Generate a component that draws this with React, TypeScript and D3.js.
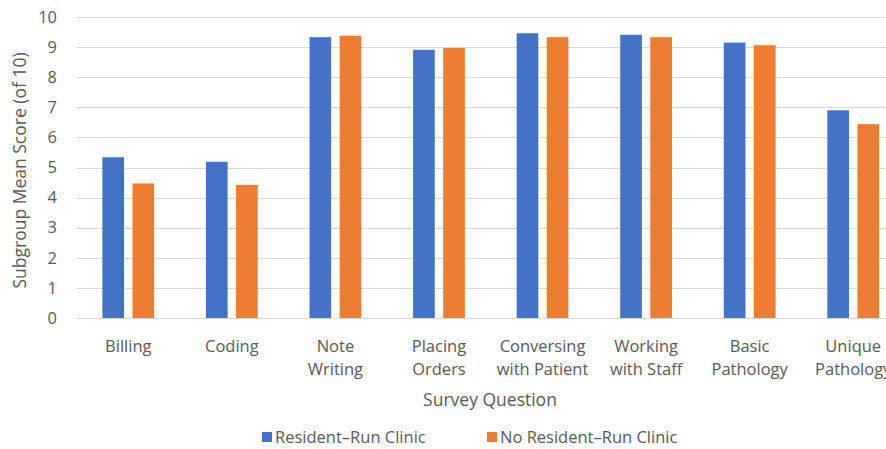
import React, { useEffect, useRef } from "react";
import * as d3 from "d3";

const categories = [
  ["Billing"],
  ["Coding"],
  ["Note", "Writing"],
  ["Placing", "Orders"],
  ["Conversing", "with Patient"],
  ["Working", "with Staff"],
  ["Basic", "Pathology"],
  ["Unique", "Pathology"],
];
const residentRun = [5.34, 5.19, 9.33, 8.91, 9.46, 9.41, 9.15, 6.9];
const noResidentRun = [4.47, 4.42, 9.38, 8.97, 9.33, 9.33, 9.06, 6.44];
const seriesNames = ["Resident\u2013Run Clinic", "No Resident\u2013Run Clinic"];
const yTicks = [0, 1, 2, 3, 4, 5, 6, 7, 8, 9, 10];

const colors = ["#4472C4", "#ED7D31"];
const textColor = "#595959";
const font = "'Open Sans', sans-serif";

const App = () => {
  const svgRef = useRef<SVGSVGElement | null>(null);

  useEffect(() => {
    const svg = d3.select(svgRef.current);
    svg.selectAll("*").remove();

    const width = 886;
    const height = 449;
    const top = 17;
    const bottom = 318;
    const left = 76.5;
    const right = 905;

    const keys = categories.map((c) => c.join(" "));

    // x scale per category, then inner scale for the two series
    const x = d3.scaleBand().domain(keys).range([left, right]).paddingInner(0.5).paddingOuter(0.25);
    const xSub = d3.scaleBand().domain(["0", "1"]).range([0, x.bandwidth()]).paddingInner(0.28);
    const y = d3.scaleLinear().domain([0, 10]).range([bottom, top]);

    svg.append("rect").attr("width", width).attr("height", height).attr("fill", "#fff");

    // gridlines
    svg
      .append("g")
      .selectAll("line")
      .data(yTicks)
      .join("line")
      .attr("x1", left)
      .attr("x2", width)
      .attr("y1", (d) => Math.round(y(d)) + 0.5)
      .attr("y2", (d) => Math.round(y(d)) + 0.5)
      .attr("stroke", "#d9d9d9")
      .attr("stroke-width", 1);

    // y tick labels
    svg
      .append("g")
      .selectAll("text")
      .data(yTicks)
      .join("text")
      .attr("x", 57)
      .attr("y", (d) => y(d))
      .attr("dy", "0.35em")
      .attr("text-anchor", "end")
      .attr("font-family", font)
      .attr("font-size", 16.5)
      .attr("fill", textColor)
      .text((d) => d);

    // bars
    const series = [residentRun, noResidentRun];
    series.forEach((vals, si) => {
      svg
        .append("g")
        .selectAll("rect")
        .data(vals)
        .join("rect")
        .attr("x", (d, i) => (x(keys[i]) as number) + (xSub(String(si)) as number))
        .attr("width", xSub.bandwidth())
        .attr("y", (d) => y(d))
        .attr("height", (d) => y(0) - y(d))
        .attr("fill", colors[si]);
    });

    // category labels
    const catG = svg.append("g");
    categories.forEach((lines, i) => {
      const cx = (x(keys[i]) as number) + x.bandwidth() / 2;
      const t = catG
        .append("text")
        .attr("text-anchor", "middle")
        .attr("font-family", font)
        .attr("font-size", 16.5)
        .attr("fill", textColor);
      lines.forEach((ln, j) => {
        t.append("tspan").attr("x", cx).attr("y", 352 + j * 23).text(ln);
      });
    });

    // axis titles
    svg
      .append("text")
      .attr("x", 490)
      .attr("y", 406)
      .attr("text-anchor", "middle")
      .attr("font-family", font)
      .attr("font-size", 17.5)
      .attr("fill", textColor)
      .text("Survey Question");

    svg
      .append("text")
      .attr("transform", `translate(26, ${(top + bottom) / 2 + 3}) rotate(-90)`)
      .attr("text-anchor", "middle")
      .attr("font-family", font)
      .attr("font-size", 17.5)
      .attr("fill", textColor)
      .text("Subgroup Mean Score (of 10)");

    // legend
    const legendX = [262, 487];
    seriesNames.forEach((name, i) => {
      svg
        .append("rect")
        .attr("x", legendX[i])
        .attr("y", 432)
        .attr("width", 10)
        .attr("height", 10)
        .attr("fill", colors[i]);
      svg
        .append("text")
        .attr("x", legendX[i] + 13)
        .attr("y", 443)
        .attr("font-family", font)
        .attr("font-size", 16.5)
        .attr("fill", textColor)
        .text(name);
    });
  }, []);

  return (
    <svg
      ref={svgRef}
      width={886}
      height={449}
      style={{ position: "absolute", left: 0, top: 0, display: "block" }}
    ></svg>
  );
};

export default App;
